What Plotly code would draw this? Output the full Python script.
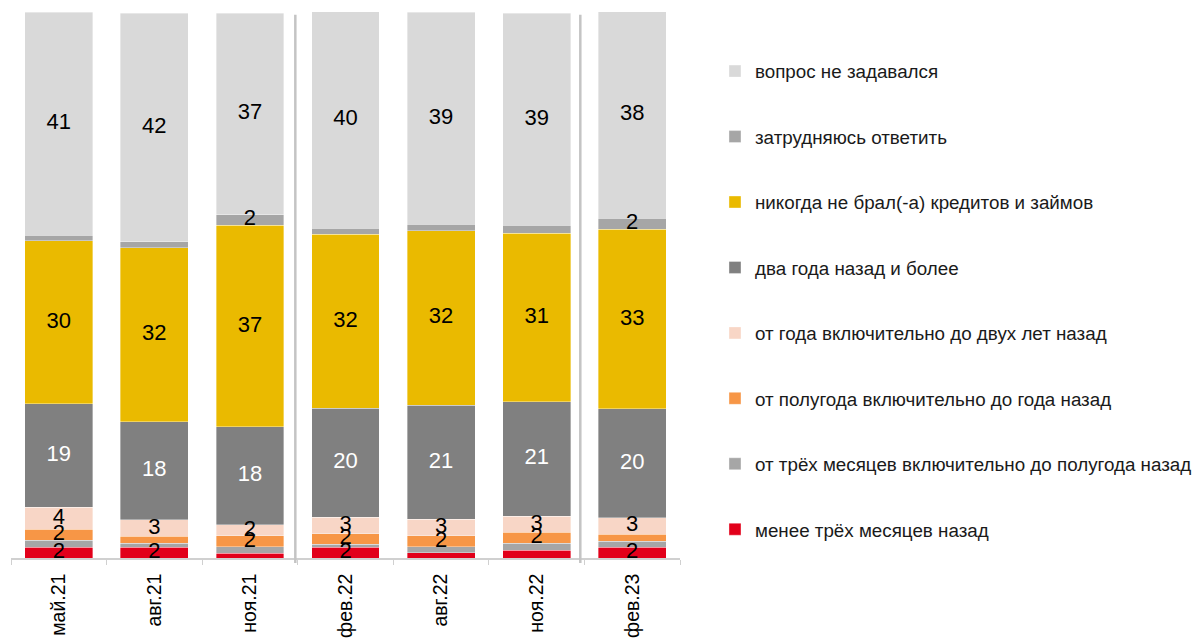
import numpy as np
import plotly.graph_objects as go

# Survey waves
periods = ["май.21", "авг.21", "ноя.21", "фев.22", "авг.22", "ноя.22", "фев.23"]

# Shares of respondents, %, per answer (stacked bottom to top)
less_3m = [2, 2, 0.9, 2, 1.0, 1.4, 2]
from_3m_to_6m = [1.3, 0.7, 1.2, 0.5, 1.1, 1.3, 1.1]
from_6m_to_1y = [2, 1.3, 2, 2, 2, 2, 1.3]
from_1y_to_2y = [4, 3, 2, 3, 3, 3, 3]
two_years_plus = [19, 18, 18, 20, 21, 21, 20]
never_borrowed = [30, 32, 37, 32, 32, 31, 33]
hard_to_say = [1.0, 1.1, 2, 1.1, 1.2, 1.4, 2]
not_asked = [41, 42, 37, 40, 39, 39, 38]

series = [
    ("менее трёх месяцев назад", less_3m, "#E2001A", "black"),
    ("от трёх месяцев включительно до полугода назад", from_3m_to_6m, "#A6A6A6", "black"),
    ("от полугода включительно до года назад", from_6m_to_1y, "#F79646", "black"),
    ("от года включительно до двух лет назад", from_1y_to_2y, "#F8D6C6", "black"),
    ("два года назад и более", two_years_plus, "#808080", "white"),
    ("никогда не брал(-а) кредитов и займов", never_borrowed, "#EABA00", "black"),
    ("затрудняюсь ответить", hard_to_say, "#A6A6A6", "black"),
    ("вопрос не задавался", not_asked, "#D9D9D9", "black"),
]

FONT = "Liberation Sans, Arial, sans-serif"

fig = go.Figure()

n = len(series)
base = np.zeros(len(periods))
lab_x, lab_y, lab_t, lab_c = [], [], [], []
for i, (name, vals, color, txtcol) in enumerate(series):
    v = np.array(vals, dtype=float)
    fig.add_trace(go.Bar(
        x=periods, y=v, name=name,
        marker=dict(color=color, line=dict(color="rgba(255,255,255,0.6)", width=0.6)),
        width=0.71, legendgroup=f"g{i}", legendrank=n - i, hoverinfo="skip",
    ))
    mids = base + v / 2
    for j, val in enumerate(v):
        if round(val) >= 2:
            lab_x.append(periods[j])
            lab_y.append(mids[j])
            lab_t.append(f"{round(val):d}")
            lab_c.append(txtcol)
    base = base + v

# Segment value labels
fig.add_trace(go.Scatter(
    x=lab_x, y=lab_y, text=lab_t, mode="text",
    textfont=dict(family=FONT, size=22, color=lab_c),
    showlegend=False, hoverinfo="skip", cliponaxis=False,
))

# Vertical separators between survey years
for xpos in [2.475, 5.457]:
    fig.add_shape(type="line", xref="x", yref="paper",
                  x0=xpos, x1=xpos, y0=-0.009, y1=0.995,
                  line=dict(color="#C4C4C4", width=2.5), layer="above")

fig.update_layout(
    barmode="stack",
    width=1193, height=641,
    margin=dict(l=11, r=513, t=12, b=83, autoexpand=False),
    paper_bgcolor="white", plot_bgcolor="white",
    font=dict(family=FONT, color="black"),
    bargap=0.29,
    legend=dict(
        x=1.0523, xanchor="left", y=0.926, yanchor="top",
        traceorder="grouped", tracegroupgap=38,
        font=dict(family=FONT, size=18.8, color="#1a1a1a"),
        bgcolor="rgba(0,0,0,0)", borderwidth=0,
    ),
    xaxis=dict(
        type="category", range=[-0.5, 6.5],
        showline=True, linecolor="#D0D0D0", linewidth=1.5,
        ticks="outside", tickson="boundaries", ticklen=5, tickcolor="#D0D0D0",
        tickangle=-90, tickfont=dict(family=FONT, size=19.5, color="black"),
        ticklabelstandoff=6,
        showgrid=False, zeroline=False,
    ),
    yaxis=dict(
        range=[0, 100.3], visible=False, showgrid=False, zeroline=False,
    ),
    showlegend=True,
)

fig.write_html("out.html")
